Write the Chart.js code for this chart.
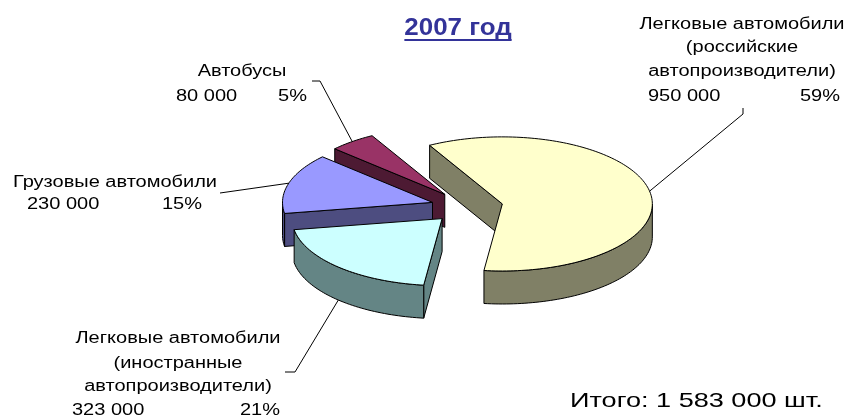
<!DOCTYPE html>
<html>
<head>
<meta charset="utf-8">
<script src="https://cdn.jsdelivr.net/npm/chart.js@4.4.0/dist/chart.umd.min.js"></script>
<style>
    html, body { margin: 0; padding: 0; background: #fff; }
    #wrap { position: relative; width: 852px; height: 415px; }
</style>
</head>
<body>
<div id="wrap"><canvas id="grafico-2007"></canvas></div>
<script>
// данные
const categories = [
    'Легковые автомобили (российские автопроизводители)',
    'Легковые автомобили (иностранные автопроизводители)',
    'Грузовые автомобили',
    'Автобусы'
];
const labelLines = [
    ['Легковые автомобили', '(российские', 'автопроизводители)'],
    ['Легковые автомобили', '(иностранные', 'автопроизводители)'],
    ['Грузовые автомобили'],
    ['Автобусы']
];
const units = [950000, 323000, 230000, 80000];
const percents = ['59%', '21%', '15%', '5%'];
const chartTitle = '2007 год';

// оформление
const topColors = ['#FFFFCC', '#CCFFFF', '#9999FF', '#993366'];
const sideColors = ['#808066', '#648585', '#4D4D80', '#4D1A33'];
const TILT = 0.447, DEPTH = 33, EXPLODE = 36, RADIUS = 150;
const FONT = '"Liberation Sans", Arial, sans-serif';
const STRETCH = 1.25;
const labelLayout = [
    { x: 742, lines: [25, 48, 72], row: 97, left: 648, right: 840, elbow: [743, 114], end: [743, 108] },
    { x: 178, lines: [339, 364, 387], row: 411, left: 72, right: 280, elbow: [295, 372], end: [285, 372] },
    { x: 115, lines: [183], row: 205, left: 27, right: 202, elbow: [220, 193], end: [220, 193] },
    { x: 242, lines: [72], row: 97, left: 176, right: 307, elbow: [320, 81], end: [312, 81] }
];

const fmt = (v) => String(v).replace(/\B(?=(\d{3})+(?!\d))/g, ' ');

function drawText(ctx, text, x, y, align, font, color, stretch) {
    ctx.save();
    ctx.translate(x, y);
    ctx.scale(stretch, 1);
    ctx.font = font;
    ctx.fillStyle = color;
    ctx.textAlign = align;
    ctx.textBaseline = 'middle';
    ctx.fillText(text, 0, 0);
    ctx.restore();
}

function projector(arc, cy) {
    return (a, r, dy = 0) => [arc.x + Math.cos(a) * r, cy + (arc.y + Math.sin(a) * r - cy) * TILT + dy];
}

function polygon(ctx, pts) {
    ctx.beginPath();
    pts.forEach((p, k) => k ? ctx.lineTo(p[0], p[1]) : ctx.moveTo(p[0], p[1]));
    ctx.closePath();
}

function arcPoints(P, a0, a1, r, dy) {
    const pts = [];
    const n = Math.max(2, Math.ceil(Math.abs(a1 - a0) * 40));
    for (let j = 0; j <= n; j++) pts.push(P(a0 + (a1 - a0) * j / n, r, dy));
    return pts;
}

function drawSides(ctx, arc, cy, color) {
    const P = projector(arc, cy);
    const s = arc.startAngle, e = arc.endAngle, R = arc.outerRadius;
    ctx.save();
    ctx.fillStyle = color;
    ctx.strokeStyle = '#000';
    ctx.lineWidth = 1;
    ctx.lineJoin = 'round';
    if (Math.cos(s) < 0) { polygon(ctx, [P(0, 0), P(s, R), P(s, R, DEPTH), P(0, 0, DEPTH)]); ctx.fill(); ctx.stroke(); }
    if (Math.cos(e) > 0) { polygon(ctx, [P(0, 0), P(e, R), P(e, R, DEPTH), P(0, 0, DEPTH)]); ctx.fill(); ctx.stroke(); }
    for (let k = -1; k <= 1; k++) {
        const a0 = Math.max(s, 2 * Math.PI * k), a1 = Math.min(e, 2 * Math.PI * k + Math.PI);
        if (a1 <= a0) continue;
        const pts = arcPoints(P, a0, a1, R, 0).concat(arcPoints(P, a1, a0, R, DEPTH));
        polygon(ctx, pts);
        ctx.fill();
        ctx.stroke();
    }
    ctx.restore();
}

const pie3d = {
    id: 'pie3d',
    afterDatasetUpdate(chart, args) {
        args.meta.data.forEach(arc => {
            const mid = (arc.startAngle + arc.endAngle) / 2;
            arc.x += Math.cos(mid) * EXPLODE;
            arc.y += Math.sin(mid) * EXPLODE;
        });
    },
    beforeDatasetsDraw(chart) {
        const ctx = chart.ctx;
        const cy = (chart.chartArea.top + chart.chartArea.bottom) / 2;
        const arcs = chart.getDatasetMeta(0).data;
        const order = arcs.map((a, i) => i)
            .sort((i, j) => Math.sin((arcs[i].startAngle + arcs[i].endAngle) / 2) - Math.sin((arcs[j].startAngle + arcs[j].endAngle) / 2));
        order.forEach(i => drawSides(ctx, arcs[i], cy, sideColors[i]));
        ctx.save();
        ctx.translate(0, cy);
        ctx.scale(1, TILT);
        ctx.translate(0, -cy);
    },
    afterDatasetsDraw(chart) {
        const ctx = chart.ctx;
        ctx.restore();
        const cy = (chart.chartArea.top + chart.chartArea.bottom) / 2;
        const arcs = chart.getDatasetMeta(0).data;

        // контуры верхних граней
        ctx.save();
        ctx.strokeStyle = '#000';
        ctx.lineWidth = 1;
        ctx.lineJoin = 'round';
        arcs.forEach(arc => {
            const P = projector(arc, cy);
            polygon(ctx, [P(0, 0)].concat(arcPoints(P, arc.startAngle, arc.endAngle, arc.outerRadius, 0)));
            ctx.stroke();
        });

        // выноски
        arcs.forEach((arc, i) => {
            const P = projector(arc, cy);
            const mid = (arc.startAngle + arc.endAngle) / 2;
            const anchor = P(mid, arc.outerRadius, Math.sin(mid) > 0.5 ? DEPTH : 0);
            const lay = labelLayout[i];
            ctx.beginPath();
            ctx.moveTo(anchor[0], anchor[1]);
            ctx.lineTo(lay.elbow[0], lay.elbow[1]);
            ctx.lineTo(lay.end[0], lay.end[1]);
            ctx.stroke();
        });
        ctx.restore();

        // подписи
        const labelFont = '16px ' + FONT;
        arcs.forEach((arc, i) => {
            const lay = labelLayout[i];
            labelLines[i].forEach((t, k) => drawText(ctx, t, lay.x, lay.lines[k], 'center', labelFont, '#000', STRETCH));
            drawText(ctx, fmt(units[i]), lay.left, lay.row, 'left', labelFont, '#000', STRETCH);
            drawText(ctx, percents[i], lay.right, lay.row, 'right', labelFont, '#000', STRETCH);
        });

        // заголовок
        ctx.save();
        ctx.font = 'bold 24px ' + FONT;
        const tw = ctx.measureText(chartTitle).width * 1.08;
        ctx.restore();
        drawText(ctx, chartTitle, 458, 28, 'center', 'bold 24px ' + FONT, '#333399', 1.08);
        ctx.fillStyle = '#333399';
        ctx.fillRect(458 - tw / 2, 39, tw, 2);

        const total = units.reduce((a, b) => a + b, 0);
        drawText(ctx, 'Итого: ' + fmt(total) + ' шт.', 570, 401, 'left', '21px ' + FONT, '#000', 1.29);
    }
};

const grafico2007 = new Chart(document.getElementById('grafico-2007').getContext('2d'), {
    type: 'pie',
    data: {
        labels: categories,
        datasets: [{ data: units, backgroundColor: topColors, borderWidth: 0 }]
    },
    options: {
        responsive: true, maintainAspectRatio: false,
        animation: false,
        events: [],
        rotation: -29,
        radius: RADIUS,
        layout: { padding: { left: 82, right: 0, top: 0, bottom: 1 } },
        plugins: { legend: { display: false }, tooltip: { enabled: false } }
    },
    plugins: [pie3d]
});
</script>
</body>
</html>
